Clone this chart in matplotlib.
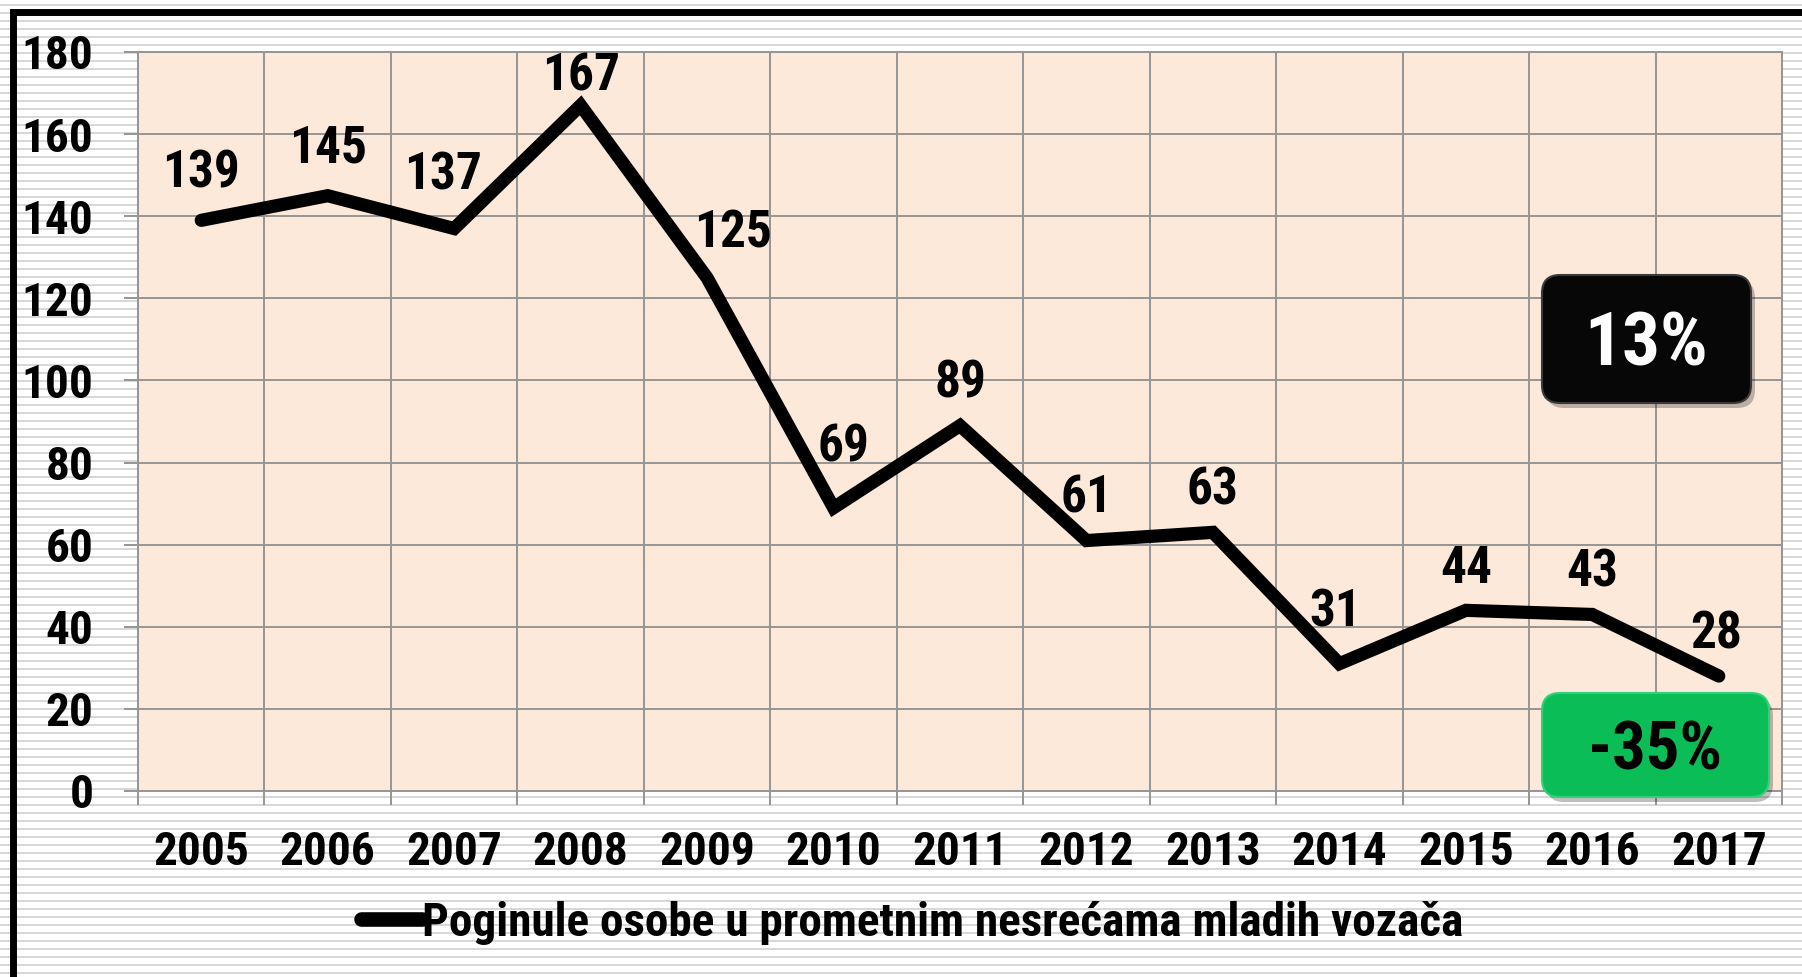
import numpy as np
import matplotlib
matplotlib.use("Agg")
import matplotlib.pyplot as plt
from matplotlib.patches import FancyBboxPatch, Rectangle
from matplotlib.transforms import IdentityTransform

# data
years = ['2005', '2006', '2007', '2008', '2009', '2010', '2011',
         '2012', '2013', '2014', '2015', '2016', '2017']
deaths = [139, 145, 137, 167, 125, 69, 89, 61, 63, 31, 44, 43, 28]
y_ticks = [0, 20, 40, 60, 80, 100, 120, 140, 160, 180]
series_name = 'Poginule osobe u prometnim nesrećama mladih vozača'
share_text = '13%'
change_text = '-35%'

# label offsets in points (dx, dy) so numbers sit like in the original
label_offsets = [(0, 34), (0, 34), (-8, 38), (0, 21), (19, 32), (7, 43), (0, 30),
                 (0, 30), (0, 30), (-3, 37), (0, 30), (0, 30), (-2, 30)]

W, H = 1802, 977
FONT = ['Roboto Condensed', 'DejaVu Sans']
grid_col = '#959595'

fig = plt.figure(figsize=(W / 100, H / 100), dpi=100)
fig.patch.set_facecolor('white')

# striped background
bg = fig.add_axes([0, 0, 1, 1], zorder=0)
rows = np.ones((H, 1, 3))
for r in range(H):
    if r % 8 in (4, 5):
        rows[r, 0, :] = 0.85
bg.imshow(rows, extent=[0, W, 0, H], aspect='auto', interpolation='nearest', origin='upper')
bg.set_xlim(0, W)
bg.set_ylim(0, H)
bg.axis('off')

# outer black frame (right and bottom run off the image)
fig.patches.append(Rectangle((13, -2), 1900, H - 11.5 + 2, transform=IdentityTransform(),
                             fill=False, edgecolor='black', linewidth=5, zorder=1))

ax = fig.add_axes([138 / W, (H - 791) / H, 1644 / W, 739 / H], zorder=2)
ax.set_facecolor('#fce9da')
x = np.arange(len(years))
ax.plot(x, deaths, color='black', linewidth=9.5, solid_capstyle='round',
        solid_joinstyle='miter', zorder=3, label=series_name)

for i, v in enumerate(deaths):
    dx, dy = label_offsets[i]
    ax.annotate(str(v), (x[i], v), xytext=(dx, dy), textcoords='offset points',
                ha='center', va='center', fontsize=37, fontweight='bold',
                family=FONT, color='black', zorder=4)

ax.set_xlim(-0.5, len(years) - 0.5)
ax.set_ylim(0, 180)
ax.set_yticks(y_ticks)
ax.set_yticklabels([str(t) for t in y_ticks], fontsize=34, fontweight='bold', family=FONT)
ax.set_xticks(x)
ax.set_xticklabels(years, fontsize=34, fontweight='bold', family=FONT)
ax.set_xticks(np.arange(-0.5, len(years)), minor=True)
ax.tick_params(axis='x', which='major', length=0, pad=28)
ax.tick_params(axis='x', which='minor', length=10, width=1.4, color=grid_col)
ax.tick_params(axis='y', which='major', length=10, width=1.4, color=grid_col, pad=22)
ax.grid(True, which='major', axis='y', color=grid_col, linewidth=1.4)
ax.grid(True, which='minor', axis='x', color=grid_col, linewidth=1.4)
ax.set_axisbelow(True)
for s in ax.spines.values():
    s.set_color(grid_col)
    s.set_linewidth(1.4)

leg = fig.legend(loc='center', bbox_to_anchor=(912 / W, 1 - 923 / H), frameon=False,
                 handlelength=1.3, handletextpad=0.0,
                 prop={'family': FONT, 'size': 34, 'weight': 'bold'})
for ln in leg.get_lines():
    ln.set_solid_capstyle('round')
    ln.set_linewidth(10.5)


def badge(x0, y0, x1, y1, face, edge, text, tcolor, size, ty):
    w, h = x1 - x0, y1 - y0
    yb = H - y1
    fig.patches.append(FancyBboxPatch((x0 + 4, yb - 5), w, h, boxstyle='round,pad=0,rounding_size=18',
                                      transform=IdentityTransform(), facecolor='#000000', alpha=0.25,
                                      edgecolor='none', zorder=5))
    fig.patches.append(FancyBboxPatch((x0, yb), w, h, boxstyle='round,pad=0,rounding_size=18',
                                      transform=IdentityTransform(), facecolor=face, edgecolor=edge,
                                      linewidth=1.5, zorder=6))
    fig.text((x0 + x1) / 2 / W, 1 - ty / H, text, ha='center', va='center',
             color=tcolor, fontsize=size, fontweight='bold', family=FONT, zorder=7)


badge(1542, 275, 1751, 403, '#070707', '#3a3a3a', share_text, 'white', 54, 346)
badge(1542, 693, 1769, 797, '#0bbd57', '#2fd27a', change_text, 'black', 48, 751)

fig.savefig('out.png', dpi=100)
